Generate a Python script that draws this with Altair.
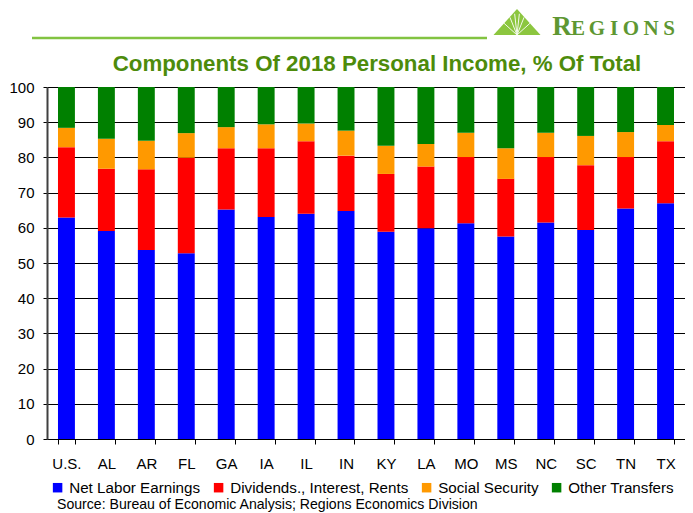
import altair as alt
import pandas as pd

states = ["U.S.", "AL", "AR", "FL", "GA", "IA", "IL", "IN",
          "KY", "LA", "MO", "MS", "NC", "SC", "TN", "TX"]
labor = [62.9, 59.1, 53.7, 52.8, 65.2, 63.1, 64.0, 64.8,
         58.9, 59.9, 61.3, 57.5, 61.5, 59.4, 65.5, 67.0]
dividends = [20.0, 17.7, 22.9, 27.1, 17.4, 19.5, 20.6, 15.7,
             16.4, 17.5, 18.8, 16.4, 18.6, 18.4, 14.6, 17.6]
social = [5.5, 8.5, 8.1, 7.0, 6.0, 6.8, 5.0, 7.1,
          8.0, 6.4, 6.9, 8.7, 6.9, 8.3, 7.1, 4.6]
other = [11.6, 14.7, 15.3, 13.1, 11.4, 10.6, 10.4, 12.4,
         16.7, 16.2, 13.0, 17.4, 13.0, 13.9, 12.8, 10.8]
components = ["Net Labor Earnings", "Dividends., Interest, Rents",
              "Social Security", "Other Transfers"]
colors = ["#0000FF", "#FF0000", "#FF9900", "#008000"]
title_text = "Components Of 2018 Personal Income, % Of Total"
source_text = "Source: Bureau of Economic Analysis; Regions Economics Division"

rows = []
for ci, (name, vals) in enumerate(zip(components, [labor, dividends, social, other])):
    for s, v in zip(states, vals):
        rows.append({"state": s, "component": name, "value": v, "order": ci})
df = pd.DataFrame(rows)

FONT = "Liberation Sans"
SERIF = "Liberation Serif"
W, H = 638, 352

bars = alt.Chart(df).mark_bar(strokeWidth=0).encode(
    x=alt.X("state:N", sort=states,
            scale=alt.Scale(paddingInner=0.576, paddingOuter=0.275),
            axis=alt.Axis(title=None, labelAngle=0, labelFont=FONT, labelFontSize=15,
                          labelColor="#000000", tickBand="extent", tickSize=5,
                          tickColor="#000000", domainColor="#000000", domainWidth=1,
                          labelPadding=12, grid=False)),
    y=alt.Y("value:Q", stack="zero",
            scale=alt.Scale(domain=[0, 100], nice=False),
            axis=alt.Axis(title=None, values=list(range(0, 101, 10)), labelFont=FONT,
                          labelFontSize=15, labelColor="#000000", tickSize=4,
                          tickColor="#000000", labelPadding=9, grid=True,
                          gridColor="#000000", gridWidth=1.2, domainColor="#404040",
                          domainWidth=2)),
    color=alt.Color("component:N", sort=components,
                    scale=alt.Scale(domain=components, range=colors),
                    legend=alt.Legend(title=None, orient="none", legendX=3, legendY=393,
                                      direction="horizontal", symbolType="square",
                                      symbolSize=90, symbolStrokeWidth=0,
                                      labelFont=FONT, labelFontSize=15.2,
                                      labelColor="#000000", columnPadding=10,
                                      labelOffset=4, padding=0, labelLimit=400)),
    order=alt.Order("order:Q"),
)

one = pd.DataFrame({"a": [0]})

title = alt.Chart(one).mark_text(
    text=title_text, font=FONT, fontSize=22.3, fontWeight="bold", color="#4d8b0b",
    align="center", baseline="alphabetic"
).encode(x=alt.value(330), y=alt.value(-16))

source = alt.Chart(one).mark_text(
    text=source_text, font=FONT, fontSize=14.1, color="#000000",
    align="left", baseline="alphabetic"
).encode(x=alt.value(10), y=alt.value(422))

line = alt.Chart(one).mark_rule(stroke="#82c341", strokeWidth=2.5).encode(
    x=alt.value(-15), x2=alt.value(440), y=alt.value(-49))

tri = alt.Chart(one).mark_point(
    shape="M0,-0.553L1,0.553L-1,0.553Z", filled=True, fill="#8cc63f", opacity=1,
    strokeWidth=0
).encode(x=alt.value(470), y=alt.value(-65), size=alt.value(2209))

rays = alt.Chart(one).mark_point(
    shape=("M0,0.553L-0.55,0.055M0,0.553L-0.3,-0.2M0,0.553L-0.1,-0.35"
           "M0,0.553L0.1,-0.35M0,0.553L0.3,-0.2M0,0.553L0.55,0.055"),
    filled=False, stroke="#ffffff", strokeWidth=1, opacity=0.9
).encode(x=alt.value(470), y=alt.value(-65), size=alt.value(2209))

letters = [("R", 515, 27), ("E", 531, 21), ("G", 550, 21), ("I", 567, 21),
           ("O", 584, 21), ("N", 604, 21), ("S", 622, 21)]
logo_layers = []
for ch, lx, fs in letters:
    logo_layers.append(
        alt.Chart(one).mark_text(
            text=ch, font=SERIF, fontSize=fs, fontWeight="bold", color="#5e9732",
            align="center", baseline="alphabetic"
        ).encode(x=alt.value(lx), y=alt.value(-52))
    )

chart = alt.layer(bars, title, source, line, tri, rays, *logo_layers).properties(
    width=W, height=H,
    autosize=alt.AutoSizeParams(type="none"),
    padding={"left": 39, "top": 79, "right": 0, "bottom": 74},
).configure_view(strokeWidth=0)

chart.save("out.html", embed_options={"renderer": "svg", "actions": False})
